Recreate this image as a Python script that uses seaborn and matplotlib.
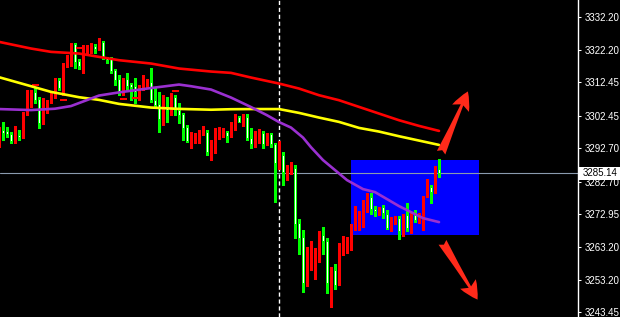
import numpy as np
import pandas as pd
import matplotlib
matplotlib.use("Agg")
import matplotlib.pyplot as plt
import matplotlib.transforms as mtransforms
from matplotlib.patches import Rectangle, FancyArrowPatch
import seaborn as sns

# ---- OHLC bars, oldest first ----
opens = [3293.6, 3298.1, 3297.8, 3297.1, 3294.9, 3296.6, 3296.1, 3303.1, 3308.8, 3309.5,
         3307.5, 3300.2, 3303.7, 3306.7, 3308.7, 3313.2, 3310.7, 3317.5, 3319.2, 3324.0,
         3318.9, 3317.5, 3321.4, 3321.7, 3323.5, 3322.5, 3324.7, 3319.7, 3319.7, 3316.2,
         3313.4, 3309.7, 3313.4, 3311.9, 3311.4, 3309.7, 3310.7, 3311.4, 3312.5, 3307.2,
         3305.9, 3301.2, 3305.2, 3304.2, 3308.0, 3304.2, 3302.9, 3299.2, 3295.0, 3295.2,
         3296.0, 3297.0, 3297.5, 3291.7, 3293.5, 3295.7, 3296.7, 3297.6, 3296.5, 3299.5,
         3302.0, 3301.0, 3302.0, 3295.7, 3294.0, 3295.0, 3297.4, 3294.0, 3297.0, 3294.0,
         3288.1, 3290.7, 3285.6, 3285.6, 3286.8, 3270.3, 3266.1, 3252.4, 3259.3, 3260.4,
         3261.4, 3266.7, 3264.9, 3252.6, 3256.1, 3251.8, 3263.4, 3264.3, 3265.4, 3269.2,
         3269.7, 3270.1, 3274.1, 3278.1, 3274.6, 3273.6, 3275.1, 3273.1, 3268.9, 3270.8,
         3271.8, 3267.9, 3272.6, 3268.3, 3272.7, 3270.7, 3268.7, 3278.0, 3281.0, 3279.7,
         3286.4]
highs = [3299.0, 3300.6, 3299.1, 3297.6, 3299.3, 3298.1, 3303.5, 3310.3, 3310.3, 3310.7,
         3308.2, 3307.7, 3307.2, 3309.2, 3313.7, 3313.7, 3318.2, 3320.7, 3324.4, 3324.4,
         3319.4, 3323.7, 3323.7, 3324.4, 3323.9, 3325.9, 3325.0, 3320.2, 3320.2, 3316.4,
         3314.7, 3313.7, 3315.2, 3312.2, 3313.7, 3311.7, 3314.7, 3313.4, 3316.7, 3310.7,
         3309.7, 3308.7, 3308.2, 3309.2, 3308.7, 3306.2, 3303.2, 3299.7, 3297.7, 3297.2,
         3298.2, 3299.4, 3298.2, 3295.2, 3298.7, 3299.2, 3298.7, 3298.0, 3300.7, 3302.9,
         3302.4, 3303.0, 3303.0, 3298.7, 3297.9, 3298.4, 3298.0, 3297.2, 3297.4, 3294.2,
         3295.0, 3291.6, 3287.6, 3288.6, 3287.6, 3271.6, 3268.1, 3263.1, 3264.9, 3262.9,
         3267.9, 3269.1, 3265.9, 3257.1, 3257.9, 3264.3, 3266.4, 3266.1, 3270.1, 3275.3,
         3273.9, 3277.1, 3279.3, 3279.3, 3275.3, 3275.1, 3275.6, 3274.1, 3272.1, 3272.3,
         3272.3, 3273.1, 3276.3, 3273.6, 3274.2, 3273.4, 3278.4, 3283.4, 3281.7, 3287.4,
         3289.6]
lows = [3293.0, 3295.1, 3296.1, 3294.3, 3294.3, 3295.3, 3295.8, 3302.6, 3305.1, 3306.2,
        3298.7, 3300.0, 3303.2, 3306.2, 3307.7, 3310.2, 3308.7, 3317.2, 3317.5, 3316.7,
        3316.4, 3315.4, 3320.7, 3321.2, 3321.2, 3322.2, 3319.4, 3318.2, 3315.2, 3311.7,
        3308.7, 3308.7, 3310.2, 3307.2, 3306.2, 3307.2, 3310.2, 3310.7, 3306.7, 3305.2,
        3297.7, 3299.7, 3300.7, 3302.7, 3302.7, 3300.4, 3295.2, 3294.7, 3292.7, 3294.2,
        3294.4, 3296.7, 3290.7, 3289.2, 3291.2, 3295.4, 3296.2, 3294.7, 3296.2, 3298.2,
        3300.5, 3299.4, 3295.2, 3292.9, 3293.2, 3294.2, 3292.9, 3293.8, 3293.2, 3276.6,
        3286.6, 3281.6, 3283.1, 3285.1, 3265.8, 3261.1, 3249.6, 3251.4, 3256.1, 3253.6,
        3258.6, 3261.1, 3249.4, 3245.1, 3250.6, 3251.6, 3260.8, 3261.4, 3262.3, 3268.1,
        3268.1, 3269.1, 3273.6, 3273.1, 3272.3, 3272.6, 3271.8, 3268.6, 3267.9, 3270.1,
        3265.6, 3266.3, 3267.9, 3267.3, 3270.6, 3270.2, 3268.2, 3278.0, 3276.4, 3279.2,
        3284.2]
closes = [3298.1, 3297.4, 3297.1, 3294.9, 3296.6, 3296.1, 3303.1, 3308.9, 3309.5, 3307.2,
          3300.2, 3307.2, 3306.7, 3308.4, 3313.2, 3310.7, 3317.7, 3319.4, 3324.0, 3318.7,
          3317.5, 3321.7, 3322.2, 3323.7, 3322.5, 3324.7, 3319.7, 3319.2, 3316.0, 3313.2,
          3310.0, 3313.4, 3311.4, 3311.2, 3309.7, 3311.2, 3311.7, 3312.7, 3307.2, 3305.7,
          3301.4, 3308.2, 3304.2, 3308.2, 3304.2, 3302.7, 3298.9, 3295.0, 3295.7, 3296.2,
          3297.4, 3297.7, 3291.7, 3293.7, 3296.2, 3296.9, 3297.7, 3296.5, 3299.7, 3301.7,
          3300.7, 3302.2, 3295.7, 3294.0, 3295.0, 3297.4, 3294.0, 3297.0, 3294.0, 3288.3,
          3290.7, 3285.6, 3286.3, 3286.8, 3270.1, 3265.9, 3252.4, 3259.6, 3260.8, 3261.6,
          3266.7, 3264.8, 3252.4, 3256.1, 3251.8, 3263.8, 3264.3, 3265.3, 3269.4, 3270.1,
          3270.4, 3274.6, 3278.1, 3274.6, 3273.8, 3275.1, 3273.4, 3268.9, 3271.1, 3271.8,
          3267.9, 3272.6, 3268.8, 3272.6, 3271.2, 3272.0, 3278.4, 3281.0, 3279.6, 3286.7,
          3285.14]

# ---- moving averages, sampled at bar indices ----
ma_red_idx = [0, 8, 13, 20, 25, 30, 38, 45, 53, 58, 63, 70, 75, 80, 85, 90, 95, 100, 105, 110]
ma_red = [3324.6, 3322.6, 3321.6, 3321.1, 3320.1, 3319.1, 3318.1, 3316.6, 3315.7, 3315.3,
          3313.9, 3312.1, 3310.6, 3308.6, 3307.1, 3305.1, 3303.1, 3301.1, 3299.4, 3297.9]
ma_yellow_idx = [0, 8, 13, 20, 25, 30, 38, 45, 53, 58, 63, 70, 75, 80, 85, 90, 95, 100, 105, 110]
ma_yellow = [3314.0, 3311.3, 3309.6, 3308.0, 3307.2, 3306.0, 3304.9, 3304.5, 3304.25, 3304.4,
             3304.45, 3304.45, 3303.3, 3301.9, 3300.6, 3298.8, 3297.7, 3296.3, 3295.0, 3293.7]
ma_purple_idx = [0, 8, 14, 18, 22, 25, 30, 38, 45, 48, 53, 58, 63, 67, 70, 73, 76, 78,
                 81, 84, 87, 91, 94, 97, 100, 103, 106, 110]
ma_purple = [3304.45, 3304.15, 3304.55, 3305.35, 3307.15, 3308.5, 3309.45, 3310.75, 3311.8,
             3311.3, 3310.3, 3307.9, 3305.05, 3302.6, 3300.55, 3298.9, 3295.9, 3293.0,
             3289.15, 3286.15, 3283.15, 3280.45, 3279.55, 3277.45, 3275.35, 3273.55,
             3271.75, 3270.55]

# ---- short signal marks (bar index, price) ----
mark_bars = [9.1, 16.1, 20.0, 31.1, 34.1, 44.1]
mark_prices = [3311.6, 3307.15, 3322.65, 3307.35, 3307.65, 3309.75]

# ---- price axis labels ----
price_ticks = [3332.20, 3322.20, 3312.45, 3302.45, 3292.70, 3282.70, 3272.95, 3263.20,
               3253.20, 3243.45]
bid_price = 3285.14
session_bar = 70

# ---- zone box and direction arrows ----
zone_bars = (88, 120)
zone_prices = (3266.65, 3289.15)
arrow_up = ((110.25, 3290.6), (117.5, 3310.5))
arrow_down = ((110.5, 3265.2), (120.0, 3246.6))

sns.set_theme(style="dark", rc={"axes.facecolor": "black", "figure.facecolor": "black"})
plt.rcParams["font.family"] = ["Liberation Sans", "DejaVu Sans"]

fig = plt.figure(figsize=(6.2, 3.17), dpi=100, facecolor="black")
ax = fig.add_axes([0, 0, 578 / 620, 1])
ax.set_facecolor("black")

df = pd.DataFrame({"open": opens, "high": highs, "low": lows, "close": closes})
df["bar"] = np.arange(len(df))
up = df["close"] >= df["open"]
dn = ~up

# zone box (background object)
ax.add_patch(Rectangle((zone_bars[0], zone_prices[0]), zone_bars[1] - zone_bars[0],
                       zone_prices[1] - zone_prices[0], facecolor="#0000ff",
                       edgecolor="none", zorder=1))

# bid line and session separator
ax.axhline(bid_price, color="#8a9aae", lw=0.8, zorder=2)
ax.axvline(session_bar, color="white", lw=1.0, linestyle=(0, (3, 2)), zorder=2)

# wicks
ax.vlines(df.loc[up, "bar"], df.loc[up, "low"], df.loc[up, "high"], color="#ff0000",
          lw=0.75, zorder=3, antialiased=False)
ax.vlines(df.loc[dn, "bar"], df.loc[dn, "low"], df.loc[dn, "high"], color="#00ff00",
          lw=0.75, zorder=3, antialiased=False)

# bodies
ub = df[up]
ax.bar(ub["bar"], np.maximum(ub["close"] - ub["open"], 0.3), bottom=ub["open"], width=0.62,
       color="#ff0000", edgecolor="none", zorder=4, antialiased=False)
db = df[dn]
ax.bar(db["bar"], np.maximum(db["open"] - db["close"], 0.3), bottom=db["close"], width=0.45,
       color="#ffffff", edgecolor="#00ff00", linewidth=0.72, zorder=4, antialiased=False)

# short red signal marks
mb = np.array(mark_bars)
ax.hlines(mark_prices, mb - 0.85, mb + 0.85, color="#ff0000", lw=1.2, zorder=4,
          antialiased=False)

# moving averages
for idx, vals, col in [(ma_red_idx, ma_red, "#ff0000"),
                       (ma_yellow_idx, ma_yellow, "#ffff00"),
                       (ma_purple_idx, ma_purple, "#9a30d0")]:
    sns.lineplot(x=idx, y=vals, ax=ax, color=col, linewidth=1.9, estimator=None,
                 sort=False, zorder=5)

# arrows
for (p0, p1) in (arrow_up, arrow_down):
    ax.add_patch(FancyArrowPatch(p0, p1,
                                 arrowstyle="fancy,head_length=0.6,head_width=0.6,tail_width=0.3",
                                 mutation_scale=22, color="#ff2a1a", lw=0, zorder=6))

ax.set_xlim(0.25, 144.75)
ax.set_ylim(3242.1, 3337.15)

# right price scale
ax.yaxis.tick_right()
ax.set_yticks(price_ticks)
ax.set_yticklabels([f"{v:.2f}" for v in price_ticks])
ax.tick_params(axis="y", colors="white", length=2.5, width=0.75, pad=2, labelsize=7,
               right=True, left=False)
ax.tick_params(axis="x", bottom=False, labelbottom=False)
ax.grid(False)
for side in ("left", "top", "bottom"):
    ax.spines[side].set_visible(False)
ax.spines["right"].set_color("white")
ax.spines["right"].set_linewidth(1.0)

# bid price tag on the scale
tr = mtransforms.blended_transform_factory(fig.transFigure, ax.transData)
ax.add_patch(Rectangle((579 / 620, bid_price - 2.0), 41 / 620, 4.0, transform=tr,
                       facecolor="white", edgecolor="none", clip_on=False, zorder=10))
ax.text(583 / 620, bid_price, f"{bid_price:.2f}", transform=tr, color="black", fontsize=7,
        ha="left", va="center", clip_on=False, zorder=11)

fig.savefig("out.png", dpi=100, facecolor="black")
